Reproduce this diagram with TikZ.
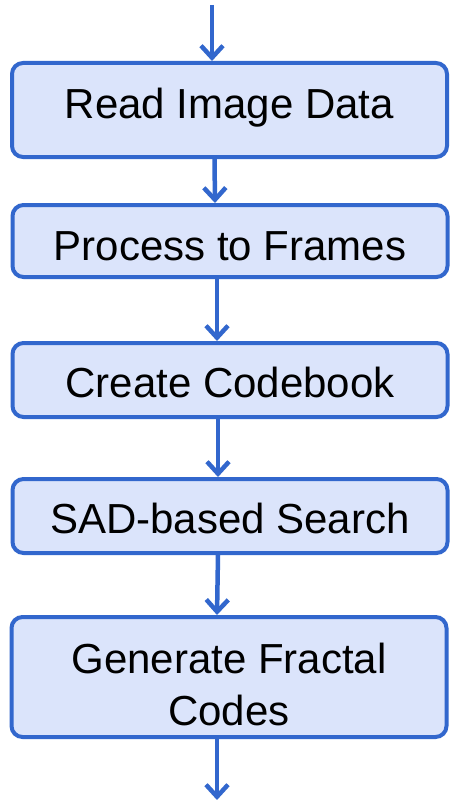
\documentclass[tikz,border=0pt]{standalone}
\usepackage{fontspec}
\setmainfont{Liberation Sans}
\usetikzlibrary{arrows.meta}
\definecolor{flowblue}{RGB}{50,103,205}
\definecolor{boxfill}{RGB}{219,228,251}
\tikzset{
  stepbox/.style={draw=flowblue, fill=boxfill, line width=4pt,
    rounded corners=11pt, minimum width=435pt, inner sep=0pt,
    align=center, font=\fontsize{42}{52}\selectfont, text=black},
  flow/.style={draw=flowblue, line width=4.5pt,
    -{Straight Barb[length=12pt,width=22pt,line width=4.5pt]}}
}
\begin{document}
\begin{tikzpicture}[x=1pt,y=-1pt]
\useasboundingbox (0,0) rectangle (450,800);

\node[stepbox, minimum height=94pt, text height=16pt, text depth=0pt] (b1) at (229.5,110) {Read Image Data};
\node[stepbox, minimum height=72pt, text height=38pt, text depth=0pt] (b2) at (230,241) {Process to Frames};
\node[stepbox, minimum height=74pt, text height=34pt, text depth=0pt] (b3) at (230,380) {Create Codebook};
\node[stepbox, minimum height=74pt, text height=34pt, text depth=0pt] (b4) at (230,516) {SAD-based Search};
\node[stepbox, minimum height=120pt, text height=96pt, text depth=0pt] (b5) at (229,677) {Generate Fractal\\Codes};

\coordinate (in) at (212,5);
\coordinate (out) at (217,800);

\draw[flow] (in) -- (in |- b1.north);
\draw[flow] ([xshift=-15pt]b1.south) -- ([xshift=-15pt]b2.north);
\draw[flow] ([xshift=-13pt]b2.south) -- ([xshift=-13pt]b3.north);
\draw[flow] ([xshift=-12pt]b3.south) -- ([xshift=-12pt]b4.north);
\draw[flow] ([xshift=-12pt]b4.south) -- ([xshift=-12pt]b5.north);
\draw[flow] (out |- b5.south) -- (out);
\end{tikzpicture}
\end{document}
